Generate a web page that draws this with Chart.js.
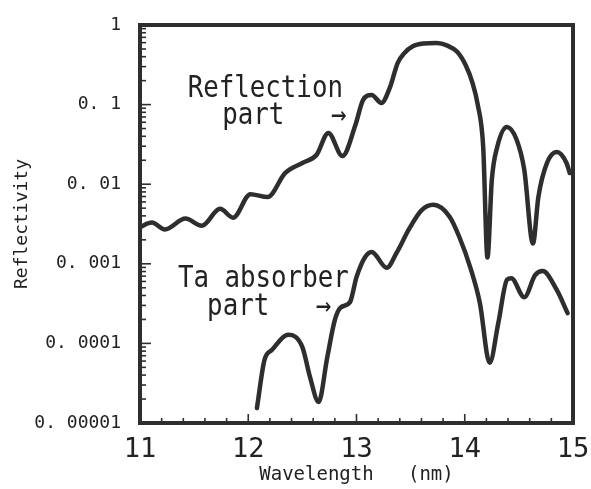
<!DOCTYPE html>
<html>
<head>
<meta charset="utf-8">
<script src="https://cdn.jsdelivr.net/npm/chart.js@4.4.1/dist/chart.umd.min.js"></script>
<style>
  body { margin: 0; background: #fff; }
  canvas { display: block; }
</style>
</head>
<body>
<canvas id="chart" width="591" height="489"></canvas>
<script>
// reflection part of the mask
const wlRefl = [11.00, 11.11, 11.23, 11.42, 11.57, 11.74, 11.86, 12.02, 12.18, 12.34, 12.50, 12.63, 12.74, 12.87, 12.99,
  13.06, 13.14, 13.23, 13.31, 13.38, 13.44, 13.52, 13.62, 13.74, 13.84, 13.93, 14.01, 14.07, 14.12, 14.17, 14.21, 14.25,
  14.30, 14.39, 14.48, 14.55, 14.63, 14.68, 14.76, 14.85, 14.94, 14.97];
const refl = [0.0029, 0.0033, 0.0027, 0.0037, 0.0030, 0.0049, 0.0038, 0.0075, 0.0069, 0.0138, 0.0185, 0.0233, 0.044, 0.0226, 0.0554,
  0.114, 0.132, 0.105, 0.166, 0.333, 0.44, 0.54, 0.585, 0.594, 0.55, 0.46, 0.31, 0.19, 0.10, 0.030, 0.0012, 0.0113,
  0.0293, 0.0523, 0.0359, 0.0151, 0.0018, 0.0069, 0.0185, 0.0254, 0.0185, 0.0138];

// Ta absorber part
const wlTa = [12.08, 12.15, 12.22, 12.37, 12.50, 12.57, 12.65, 12.73, 12.80, 12.85, 12.94, 13.00, 13.08, 13.14, 13.28,
  13.37, 13.49, 13.60, 13.71, 13.86, 13.95, 14.05, 14.14, 14.23, 14.31, 14.39, 14.43, 14.55, 14.65, 14.72,
  14.85, 14.95];
const reflTa = [1.54e-5, 6.2e-5, 8.3e-5, 1.28e-4, 9.0e-5, 3.8e-5, 1.84e-5, 6.7e-5, 1.97e-4, 2.8e-4, 3.3e-4, 6.8e-4, 1.22e-3, 1.41e-3, 8.9e-4,
  1.37e-3, 2.8e-3, 4.7e-3, 5.5e-3, 3.9e-3, 2.17e-3, 9.1e-4, 3.2e-4, 5.7e-5, 1.8e-4, 6.3e-4, 6.6e-4, 3.8e-4, 7.2e-4, 8.1e-4,
  4.7e-4, 2.4e-4];

const yTickValues = [1, 0.1, 0.01, 0.001, 0.0001, 0.00001];
const yTickLabels = ['1', '0. 1', '0. 01', '0. 001', '0. 0001', '0. 00001'];
const xTickLabels = ['11', '12', '13', '14', '15'];

// in-plot captions, anchored in data units
const notes = [
  { text: 'Reflection', x: 11.44, y: 0.124 },
  { text: 'part   \u2192', x: 11.76, y: 0.057 },
  { text: 'Ta absorber', x: 11.35, y: 5.1e-4 },
  { text: 'part   \u2192', x: 11.62, y: 2.3e-4 }
];

const mono = '"DejaVu Sans Mono", "Liberation Mono", monospace';
const ink = '#2e2e2e';

const toPts = (xs, ys) => xs.map((v, i) => ({ x: v, y: ys[i] }));

const framePlugin = {
  id: 'frame',
  afterDraw(chart) {
    const { ctx, chartArea: a, scales: { x, y } } = chart;
    ctx.save();
    ctx.strokeStyle = ink;
    ctx.lineWidth = 1.6;
    y.ticks.forEach(t => {
      const py = y.getPixelForValue(t.value);
      const lg = Math.log10(t.value);
      const major = Math.abs(lg - Math.round(lg)) < 1e-6;
      ctx.beginPath();
      ctx.moveTo(a.left, py);
      ctx.lineTo(a.left + (major ? 11 : 6), py);
      ctx.stroke();
    });
    x.ticks.forEach(t => {
      const px = x.getPixelForValue(t.value);
      const major = Math.abs(t.value - Math.round(t.value)) < 1e-6;
      ctx.beginPath();
      ctx.moveTo(px, a.bottom);
      ctx.lineTo(px, a.bottom - (major ? 9 : 5));
      ctx.stroke();
    });
    ctx.lineWidth = 4;
    ctx.strokeRect(a.left, a.top, a.right - a.left, a.bottom - a.top);

    // captions, squeezed a little horizontally
    ctx.fillStyle = '#222';
    ctx.font = '30px ' + mono;
    ctx.textAlign = 'left';
    ctx.textBaseline = 'alphabetic';
    notes.forEach(n => {
      ctx.save();
      ctx.translate(x.getPixelForValue(n.x), y.getPixelForValue(n.y));
      ctx.scale(0.86, 1);
      ctx.fillText(n.text, 0, 0);
      ctx.restore();
    });
    ctx.restore();
  }
};

new Chart(document.getElementById('chart'), {
  type: 'line',
  data: {
    datasets: [
      { label: 'Reflection part', data: toPts(wlRefl, refl) },
      { label: 'Ta absorber part', data: toPts(wlTa, reflTa) }
    ]
  },
  options: {
    responsive: false,
    animation: false,
    devicePixelRatio: 1,
    layout: { padding: { left: 0, right: 18, top: 25, bottom: 0 } },
    elements: {
      line: { borderColor: ink, borderWidth: 4.5, cubicInterpolationMode: 'monotone', borderJoinStyle: 'round', borderCapStyle: 'round' },
      point: { radius: 0 }
    },
    plugins: { legend: { display: false }, tooltip: { enabled: false } },
    scales: {
      x: {
        type: 'linear',
        min: 11,
        max: 15,
        // fixed axis band; labels may hang past the plot edges
        afterFit(s) { s.height = 66; s.paddingLeft = 0; s.paddingRight = 0; },
        afterBuildTicks(s) {
          const t = [];
          for (let i = 0; i <= 20; i++) t.push({ value: 11 + i * 0.2 });
          s.ticks = t;
        },
        grid: { display: false, drawTicks: false },
        border: { display: false },
        ticks: {
          autoSkip: false,
          maxRotation: 0,
          padding: 11,
          color: '#222',
          font: { family: mono, size: 27 },
          callback(v) {
            const r = Math.round(v);
            return Math.abs(v - r) < 1e-6 ? xTickLabels[r - 11] : '';
          }
        },
        title: {
          display: true,
          text: 'Wavelength   (nm)',
          color: '#222',
          font: { family: mono, size: 19 },
          padding: { top: 0, bottom: 3 }
        }
      },
      y: {
        type: 'logarithmic',
        min: 0.00001,
        max: 1,
        afterFit(s) { s.width = 140; s.paddingTop = 0; s.paddingBottom = 0; },
        afterBuildTicks(s) {
          const t = [];
          for (let e = -5; e <= 0; e++) {
            for (let m = 1; m <= 9; m++) {
              const v = m * Math.pow(10, e);
              if (v <= 1.0000001) t.push({ value: v });
            }
          }
          s.ticks = t;
        },
        grid: { display: false, drawTicks: false },
        border: { display: false },
        ticks: {
          autoSkip: false,
          padding: 19,
          color: '#222',
          font: { family: mono, size: 18 },
          callback(v) {
            const i = yTickValues.findIndex(d => Math.abs(d - v) / d < 1e-6);
            return i >= 0 ? yTickLabels[i] : '';
          }
        },
        title: {
          display: true,
          text: 'Reflectivity',
          color: '#222',
          font: { family: mono, size: 18 },
          padding: { top: 12, bottom: 0 }
        }
      }
    }
  },
  plugins: [framePlugin]
});
</script>
</body>
</html>
